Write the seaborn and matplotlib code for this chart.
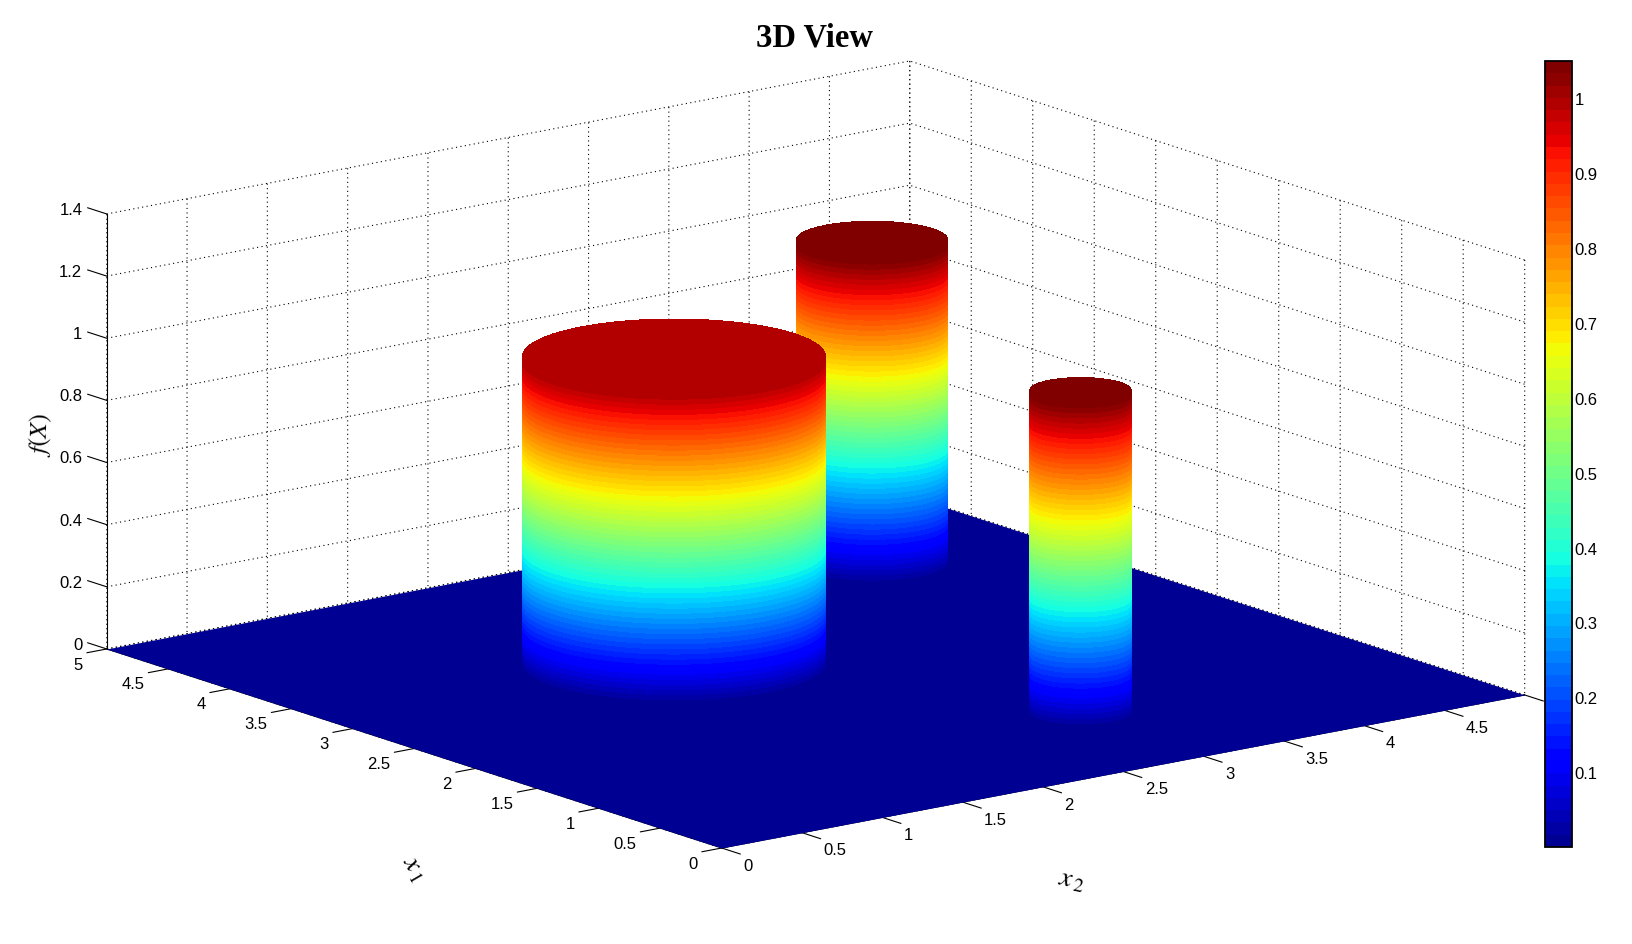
import numpy as np
import matplotlib
matplotlib.use("Agg")
import matplotlib.pyplot as plt
from matplotlib.colors import ListedColormap, Normalize
from matplotlib.cm import ScalarMappable
from matplotlib.transforms import Affine2D
from mpl_toolkits.mplot3d import proj3d
import seaborn as sns

W, H = 1632, 945

# data
cyl_x1 = [4.0, 3.0, 1.0]
cyl_x2 = [4.0, 2.0, 3.0]
cyl_radius = [0.375, 0.75, 0.25]
cyl_height = [1.05, 1.0, 1.05]
axis_ticks = [0, 0.5, 1, 1.5, 2, 2.5, 3, 3.5, 4, 4.5, 5]
x1_labels = ["0", "0.5", "1", "1.5", "2", "2.5", "3", "3.5", "4", "4.5", "5"]
x2_labels = ["0", "0.5", "1", "1.5", "2", "2.5", "3", "3.5", "4", "4.5", ""]
z_ticks = [0, 0.2, 0.4, 0.6, 0.8, 1.0, 1.2, 1.4]
z_labels = ["0", "0.2", "0.4", "0.6", "0.8", "1", "1.2", "1.4"]
cbar_ticks = [0.1, 0.2, 0.3, 0.4, 0.5, 0.6, 0.7, 0.8, 0.9, 1.0]
cbar_labels = ["0.1", "0.2", "0.3", "0.4", "0.5", "0.6", "0.7", "0.8", "0.9", "1"]
value_range = (0.0, 1.05)
n_levels = 64

sns.set_theme(style="white", font="Liberation Sans", rc={
    "text.color": "black", "axes.labelcolor": "black", "axes.edgecolor": "black",
    "xtick.color": "black", "ytick.color": "black",
    "grid.color": "black", "grid.linewidth": 0.8, "grid.linestyle": (0, (1, 3.05)),
    "axes.linewidth": 0.72, "mathtext.fontset": "stix",
})

jet = plt.get_cmap("jet")
cmap = ListedColormap(jet(np.linspace(0.018, 1.0, n_levels)))
norm = Normalize(*value_range)
step = (value_range[1] - value_range[0]) / n_levels

fig = plt.figure(figsize=(W / 100, H / 100), dpi=100, facecolor="white")
ax = fig.add_axes([0, 0, 1, 1], projection="3d", computed_zorder=False, proj_type="ortho")
ax.view_init(elev=14.38, azim=232.5)
ax.set_box_aspect((1012, 1010, 449))
ax.set_xlim(0, 5)
ax.set_ylim(0, 5)
ax.set_zlim(0, 1.4)

for axis in (ax.xaxis, ax.yaxis, ax.zaxis):
    axis.set_pane_color((1, 1, 1, 0))
    axis.pane.set_edgecolor("none")
    axis.line.set_color("black")
    axis.line.set_linewidth(0.8)

ax.set_xticks(axis_ticks, labels=x2_labels)
ax.set_yticks(axis_ticks, labels=x1_labels)
ax.set_zticks(z_ticks, labels=z_labels)
ax.tick_params(labelsize=12, pad=0)
ax.xaxis._axinfo["tick"].update(inward_factor=0.38, outward_factor=0, linewidth={True: 0.8, False: 0.8})
ax.yaxis._axinfo["tick"].update(inward_factor=0.31, outward_factor=0, linewidth={True: 0.8, False: 0.8})
ax.zaxis._axinfo["tick"].update(inward_factor=0, outward_factor=0.39, linewidth={True: 0.8, False: 0.8})
ax.zaxis._get_tickdir = lambda position: 1


def nudge_labels(axis, dx, dy):
    base = axis.get_major_ticks

    def shifted(numticks=None):
        ticks = base(numticks)
        for t in ticks:
            t.label1.set_transform(ax.transData + Affine2D().translate(dx, -dy))
        return ticks

    axis.get_major_ticks = shifted


nudge_labels(ax.xaxis, 12.5, 0.5)
nudge_labels(ax.yaxis, -12, -1)
nudge_labels(ax.zaxis, -3.6, -11.5)

# floor
fx, fy = np.meshgrid([0.0, 5.0], [0.0, 5.0])
ax.plot_surface(fx, fy, np.zeros_like(fx), facecolors=cmap(norm(np.zeros_like(fx))),
                rstride=1, cstride=1, shade=False, linewidth=0, antialiased=False, zorder=1)

# cylinders: stacked colour bands and a flat cap
theta = np.linspace(0, 2 * np.pi, 121)
for k, (cx1, cx2, r, h) in enumerate(zip(cyl_x1, cyl_x2, cyl_radius, cyl_height)):
    z_edges = np.append(np.arange(0, h - 1e-9, step), h)
    T, Z = np.meshgrid(theta, z_edges)
    X = cx2 + r * np.cos(T)
    Y = cx1 + r * np.sin(T)
    ax.plot_surface(X, Y, Z, facecolors=cmap(norm(Z + step * 0.5)), rstride=1, cstride=1,
                    shade=False, linewidth=0, antialiased=False, zorder=2 + 2 * k)
    rho = np.array([0.0, 1.0])
    T2, R2 = np.meshgrid(theta, rho)
    Zc = np.full_like(T2, h)
    ax.plot_surface(cx2 + r * R2 * np.cos(T2), cx1 + r * R2 * np.sin(T2), Zc,
                    facecolors=cmap(norm(Zc - 1e-6)), rstride=1, cstride=1,
                    shade=False, linewidth=0, antialiased=False, zorder=3 + 2 * k)


def to_px(x, y, z):
    X, Y, _ = proj3d.proj_transform(x, y, z, ax.get_proj())
    px, py = ax.transData.transform((X, Y))
    return px, H - py


def place(side, left, bottom):
    ax.set_position([left / W, bottom / H, side / W, side / H])
    fig.canvas.draw()


# fit the 3-D box to the reference corners
place(H, (W - H) / 2, 0)
p0 = to_px(0, 0, 0)
p1 = to_px(5, 0, 0)
side = H * 803 / (p1[0] - p0[0])
left, bottom = (W - side) / 2, (H - side) / 2
place(side, left, bottom)
p0 = to_px(0, 0, 0)
left += 721.7 - p0[0]
bottom += p0[1] - 849
place(side, left, bottom)

for t in ax.yaxis.get_ticklabels():
    t.set_ha("right")
    t.set_va("top")
for t in ax.xaxis.get_ticklabels():
    t.set_ha("left")
    t.set_va("top")
for t in ax.zaxis.get_ticklabels():
    t.set_ha("right")

# colour bar
cax = fig.add_axes([1545 / W, (H - 848) / H, 27 / W, (848 - 62) / H])
cb = fig.colorbar(ScalarMappable(norm=norm, cmap=cmap), cax=cax)
cb.set_ticks(cbar_ticks, labels=cbar_labels)
cax.tick_params(direction="in", length=5.8, width=0.8, left=True, right=True, labelsize=12, pad=2, color="black")
cb.outline.set_linewidth(1.3)
cb.outline.set_edgecolor("black")

fig.text(814 / W, 1 - 38 / H, "3D View", family="Liberation Serif", weight="bold", size=23.5,
         ha="center", va="center")
fig.text(40 / W, 1 - 435 / H, "$f(X)$", size=18, rotation=88, ha="center", va="center")
fig.text(414 / W, 1 - 869 / H, r"$x_{\,1}$", size=20, rotation=-60, ha="center", va="center")
fig.text(1072 / W, 1 - 880 / H, r"$x_{\,2}$", size=20, rotation=-12, ha="center", va="center")

fig.savefig("out.png", dpi=100, facecolor="white")
